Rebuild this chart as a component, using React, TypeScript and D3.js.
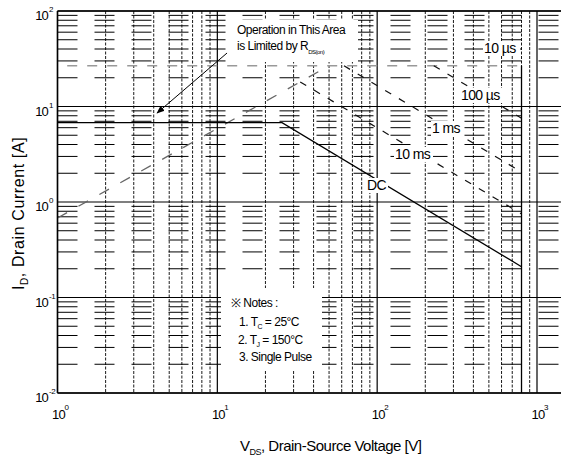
import React from "react";
import * as d3 from "d3";

// axis ticks
const xTicks = [1, 10, 100, 1000];
const xExp = ["0", "1", "2", "3"];
const yTicks = [100, 10, 1, 0.1, 0.01];
const yExp = ["2", "1", "0", "-1", "-2"];

// curves: V_DS [V], I_D [A]
const rdsV = [1, 50];
const rdsI = [0.68, 26.7];
const us10V = [1.15, 800];
const us10I = [26.7, 26.7];
const us100V = [226, 800];
const us100I = [26.7, 7.55];
const ms1V = [62, 800];
const ms1I = [26.7, 2.06];
const ms10V = [33, 800];
const ms10I = [18.1, 0.75];
const dcV = [1, 25.4, 800];
const dcI = [6.77, 6.77, 0.21];
const bvV = [800, 800];
const bvI = [26.7, 0.01];

// annotation arrow (data coords)
const arrowV = [11.5, 4.2];
const arrowI = [36.3, 8.55];

const FONT = "'Liberation Sans', Arial, Helvetica, sans-serif";

export default function App() {
  const W = 561;
  const H = 459;
  const left = 57.5;
  const right = 561;
  const top = 11;
  const bottom = 393;

  const x = d3.scaleLog().domain([1, 1000]).range([left, 537]);
  const y = d3.scaleLog().domain([0.01, 100]).range([bottom, top]);

  const minorX: number[] = [];
  for (let d = 0; d < 3; d++)
    for (let m = 2; m <= 9; m++) minorX.push(m * Math.pow(10, d));
  const minorY: number[] = [];
  for (let d = -2; d < 2; d++)
    for (let m = 2; m <= 9; m++) minorY.push(m * Math.pow(10, d));

  const line = d3
    .line<number[]>()
    .x((d) => x(d[0]))
    .y((d) => y(d[1]));
  const pts = (vs: number[], is: number[]) => vs.map((v, i) => [v, is[i]]);

  return (
    <svg
      width={W}
      height={H}
      style={{ position: "absolute", left: 0, top: 0, background: "#fff" }}
      fontFamily={FONT}
    >
      <defs>
        <marker
          id="ah"
          viewBox="0 0 10 10"
          refX="9"
          refY="5"
          markerWidth="8"
          markerHeight="8"
          orient="auto"
        >
          <path d="M0,1 L10,5 L0,9 z" fill="#000" />
        </marker>
      </defs>
      <rect width={W} height={H} fill="#fff" />

      {/* minor grid */}
      {minorY.map((v) => (
        <line
          key={"my" + v}
          x1={left}
          x2={right}
          y1={y(v)}
          y2={y(v)}
          stroke="#000"
          strokeWidth={1}
          strokeDasharray="20 17"
        />
      ))}
      {minorX.map((v) => (
        <line
          key={"mx" + v}
          x1={x(v)}
          x2={x(v)}
          y1={top}
          y2={bottom}
          stroke="#000"
          strokeWidth={0.9}
          strokeDasharray="3 1.5"
        />
      ))}

      {/* major grid */}
      {yTicks.map((v) => (
        <line
          key={"Y" + v}
          x1={left}
          x2={right}
          y1={y(v)}
          y2={y(v)}
          stroke="#000"
          strokeWidth={1.2}
        />
      ))}
      {xTicks.map((v) => (
        <line
          key={"X" + v}
          x1={x(v)}
          x2={x(v)}
          y1={top}
          y2={bottom}
          stroke="#000"
          strokeWidth={1.2}
        />
      ))}

      {/* white boxes behind notes */}
      <rect x={231} y={20} width={127} height={42} fill="#fff" />
      <rect x={221} y={288} width={101} height={82} fill="#fff" />

      {/* curves */}
      <path d={line(pts(us10V, us10I)) ?? ""} fill="none" stroke="#999" strokeWidth={1.3} strokeDasharray="10 10" />
      <path d={line(pts(rdsV, rdsI)) ?? ""} fill="none" stroke="#666" strokeWidth={1.3} strokeDasharray="11 13" />
      <path d={line(pts(us100V, us100I)) ?? ""} fill="none" stroke="#111" strokeWidth={1.2} strokeDasharray="7 9" />
      <path d={line(pts(ms1V, ms1I)) ?? ""} fill="none" stroke="#111" strokeWidth={1.2} strokeDasharray="7 9" />
      <path d={line(pts(ms10V, ms10I)) ?? ""} fill="none" stroke="#111" strokeWidth={1.2} strokeDasharray="7 9" />
      <path d={line(pts(dcV, dcI)) ?? ""} fill="none" stroke="#000" strokeWidth={1.3} />
      <path d={line(pts(bvV, bvI)) ?? ""} fill="none" stroke="#000" strokeWidth={1.3} />
      <path
        d={line(pts(arrowV, arrowI)) ?? ""}
        fill="none"
        stroke="#000"
        strokeWidth={1}
        markerEnd="url(#ah)"
      />

      {/* curve labels */}
      {[
        { t: "10 \u00b5s", x: 484, y: 53, w: 37 },
        { t: "100 \u00b5s", x: 461, y: 100, w: 45 },
        { t: "1 ms", x: 432, y: 133, w: 32 },
        { t: "10 ms", x: 395, y: 159, w: 39 },
        { t: "DC", x: 367, y: 190, w: 22 },
      ].map((l) => (
        <g key={l.t}>
          <rect x={l.x - 1} y={l.y - 12} width={l.w} height={15} fill="#fff" />
          <text x={l.x} y={l.y} fontSize={14} letterSpacing={-0.6} fill="#000">
            {l.t}
          </text>
        </g>
      ))}

      {/* annotation */}
      <text fontSize={12} letterSpacing={-0.5} fill="#000">
        <tspan x={237} y={34}>Operation in This Area</tspan>
        <tspan x={237} y={50}>is Limited by R</tspan>
        <tspan fontSize={6} dy={4}>DS(on)</tspan>
      </text>

      {/* notes */}
      <g fontSize={12} letterSpacing={-0.5} fill="#000">
        <text x={231} y={307}>{"\u203b Notes :"}</text>
        <text x={239} y={326}>
          1. T<tspan fontSize={7} dy={3}>C</tspan>
          <tspan dy={-3}> = 25°C</tspan>
        </text>
        <text x={238} y={344}>
          2. T<tspan fontSize={7} dy={3}>J</tspan>
          <tspan dy={-3}> = 150°C</tspan>
        </text>
        <text x={239} y={361}>3. Single Pulse</text>
      </g>

      {/* y tick labels */}
      {yTicks.map((v, i) => (
        <g key={"yl" + v}>
          <text x={48} y={y(v) + 9} fontSize={13} letterSpacing={-0.8} textAnchor="end" fill="#000">
            10
          </text>
          <text x={49} y={y(v) + 1} fontSize={8} letterSpacing={-0.5} fill="#000">
            {yExp[i]}
          </text>
        </g>
      ))}

      {/* x tick labels */}
      {xTicks.map((v, i) => (
        <g key={"xl" + v}>
          <text x={x(v) + 1} y={419} fontSize={13} letterSpacing={-0.8} textAnchor="middle" fill="#000">
            10
          </text>
          <text x={x(v) + 7} y={410} fontSize={8} fill="#000">
            {xExp[i]}
          </text>
        </g>
      ))}

      {/* axis titles */}
      <text x={240} y={451} fontSize={15} letterSpacing={-0.5} fill="#000">
        V<tspan fontSize={9} dy={4}>DS</tspan>
        <tspan dy={-4}>, Drain-Source Voltage [V]</tspan>
      </text>
      <text
        transform="translate(24,290) rotate(-90)"
        fontSize={16}
        letterSpacing={0.6}
        fill="#000"
      >
        I<tspan fontSize={10} dy={4}>D</tspan>
        <tspan dy={-4}>, Drain Current [A]</tspan>
      </text>

      {/* frame */}
      <line x1={left} x2={right} y1={top} y2={top} stroke="#000" strokeWidth={1.5} />
      <line x1={left} x2={right} y1={bottom} y2={bottom} stroke="#000" strokeWidth={1.5} />
      <line x1={left} x2={left} y1={top} y2={bottom} stroke="#000" strokeWidth={1.5} />
    </svg>
  );
}
